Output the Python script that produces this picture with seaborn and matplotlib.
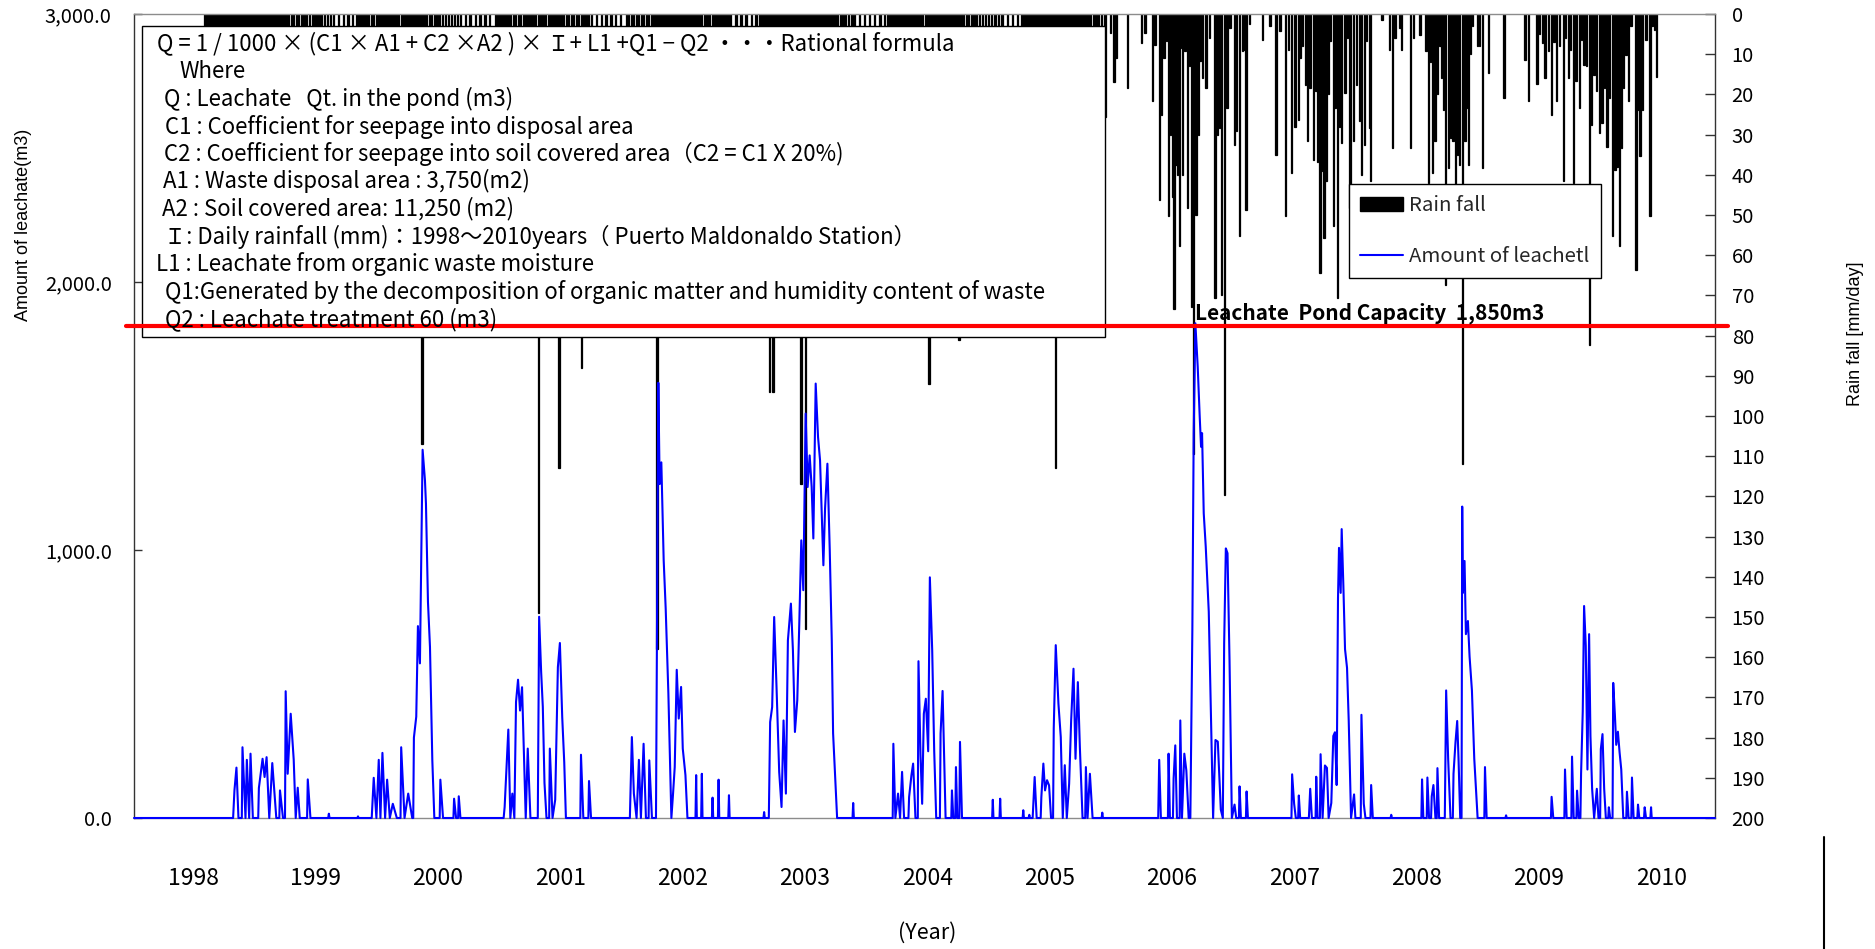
import numpy as np
import pandas as pd
import matplotlib
matplotlib.use("Agg")
import matplotlib.pyplot as plt
import seaborn as sns
from matplotlib.patches import Rectangle, Patch
from matplotlib.lines import Line2D

# ------------------------------------------------------------------
# Leachate in the pond (m3), x = day number counted from 1 Jan 1998
# one pair of lists per wet season
# ------------------------------------------------------------------
s1_day = [118, 122, 128, 134, 144, 146, 155, 159, 166, 170, 177, 193, 195, 206, 212, 218, 226, 235, 247, 256,
          258, 267, 273, 275, 281, 290, 299, 305, 311, 317, 339, 341, 349, 402, 404, 406]
s1_m3 = [0, 103, 188, 0, 0, 264, 0, 217, 0, 240, 0, 0, 112, 221, 153, 227, 0, 205, 0, 0,
         103, 0, 0, 473, 165, 389, 218, 0, 113, 0, 0, 144, 0, 0, 16, 0]

s2_day = [489, 491, 493, 532, 538, 546, 553, 558, 564, 572, 578, 586, 595, 607, 618, 620, 630, 641, 653, 656,
          658, 665, 670, 676, 684, 691, 694, 700, 706, 713, 719, 735, 737, 745, 776, 778, 784, 790, 792, 797]
s2_m3 = [0, 6, 0, 0, 150, 0, 217, 0, 243, 0, 143, 0, 53, 0, 0, 264, 0, 91, 0, 0,
         300, 378, 716, 577, 1374, 1260, 1173, 806, 638, 215, 0, 0, 143, 0, 0, 72, 0, 0, 81, 0]

s3_day = [926, 929, 940, 946, 952, 958, 963, 969, 975, 981, 986, 992, 998, 1006, 1028, 1032, 1038, 1043, 1048, 1054,
          1062, 1064, 1072, 1080, 1088, 1094, 1101, 1107, 1112, 1155, 1157, 1164, 1179, 1181, 1187]
s3_m3 = [0, 41, 330, 0, 91, 0, 433, 516, 401, 488, 265, 0, 259, 0, 0, 751, 546, 415, 131, 0,
         0, 259, 0, 68, 563, 653, 376, 208, 0, 0, 236, 0, 0, 138, 0]

s4_day = [1303, 1309, 1315, 1323, 1330, 1336, 1344, 1351, 1359, 1361, 1369, 1381, 1388, 1392, 1397, 1404, 1410,
          1418, 1427, 1432, 1437, 1443, 1449, 1456, 1461, 1469, 1475, 1499, 1501, 1503, 1516, 1518, 1520, 1548,
          1550, 1552, 1566, 1568, 1570, 1597, 1599, 1601]
s4_m3 = [0, 302, 91, 0, 217, 0, 277, 0, 0, 215, 0, 0, 1624, 1246, 1327, 962, 782,
         466, 0, 91, 190, 553, 371, 489, 259, 160, 0, 0, 160, 0, 0, 165, 0, 0,
         76, 0, 0, 143, 0, 0, 85, 0]

s5_day = [1702, 1704, 1706, 1718, 1722, 1728, 1734, 1741, 1749, 1756, 1762, 1769, 1775, 1784, 1790, 1796, 1803,
          1809, 1815, 1821, 1828, 1834, 1840, 1846, 1851, 1858, 1865, 1871, 1881, 1886, 1893, 1900, 1906, 1910,
          1922, 1968, 1970, 1972]
s5_m3 = [0, 22, 0, 0, 358, 414, 750, 490, 172, 41, 364, 91, 663, 800, 626, 321, 439,
         725, 1036, 850, 1509, 1235, 1353, 1235, 1043, 1621, 1422, 1335, 943, 1155, 1322, 999, 664, 316,
         0, 0, 56, 0]

s6_day = [2080, 2088, 2090, 2096, 2104, 2110, 2116, 2122, 2135, 2137, 2144, 2149, 2156, 2163, 2165, 2171, 2176,
          2181, 2187, 2194, 2199, 2206, 2212, 2218, 2229, 2231, 2237, 2246, 2263, 2265, 2269, 2275, 2277, 2281,
          2287, 2289, 2295, 2385, 2387, 2389, 2407, 2409, 2411]
s6_m3 = [0, 0, 277, 0, 91, 0, 172, 0, 0, 78, 160, 203, 0, 0, 585, 237, 53,
         389, 445, 249, 898, 626, 249, 0, 0, 315, 474, 0, 0, 103, 0, 0, 190, 0,
         0, 284, 0, 0, 68, 0, 0, 72, 0]

s7_day = [2476, 2478, 2480, 2494, 2496, 2498, 2506, 2512, 2518, 2530, 2532, 2538, 2543, 2549, 2555, 2561, 2567,
          2569, 2575, 2583, 2590, 2596, 2602, 2608, 2615, 2621, 2628, 2634, 2641, 2647, 2655, 2663, 2665, 2670,
          2677, 2685, 2712, 2714, 2716]
s7_m3 = [0, 29, 0, 0, 12, 0, 0, 153, 0, 0, 78, 203, 103, 141, 122, 0, 0,
         334, 645, 427, 302, 0, 197, 0, 128, 364, 557, 221, 507, 265, 0, 0, 190, 0,
         165, 0, 0, 20, 0]

s8_day = [2881, 2884, 2889, 2910, 2912, 2916, 2925, 2927, 2932, 2937, 2945, 2947, 2952, 2959, 2965, 2972, 2977,
          2983, 2987, 2992, 2999, 3005, 3009, 3012, 3017, 3023, 3032, 3045, 3052, 3059, 3068, 3074, 3078, 3083,
          3088, 3094, 3101, 3109, 3114, 3122, 3124, 3128, 3143, 3145, 3149]
s8_m3 = [0, 217, 0, 0, 240, 0, 0, 147, 271, 0, 0, 364, 0, 240, 178, 0, 0,
         701, 1436, 1846, 1684, 1497, 1385, 1436, 1137, 1012, 770, 0, 291, 285, 31, 0, 652, 1006,
         988, 590, 0, 50, 0, 0, 118, 0, 0, 99, 0]

s9_day = [3273, 3279, 3281, 3287, 3292, 3299, 3301, 3305, 3331, 3335, 3340, 3351, 3353, 3357, 3364, 3366, 3372,
          3379, 3385, 3390, 3398, 3404, 3409, 3414, 3418, 3421, 3426, 3429, 3434, 3439, 3445, 3450, 3457, 3466,
          3470, 3486, 3488, 3495, 3500, 3515, 3517, 3522, 3575, 3577, 3579]
s9_m3 = [0, 0, 163, 53, 0, 0, 84, 0, 0, 109, 0, 0, 154, 0, 0, 238, 0,
         196, 187, 0, 56, 306, 320, 123, 819, 1008, 840, 1078, 868, 630, 560, 364, 0, 88,
         0, 0, 385, 53, 0, 0, 123, 0, 0, 12, 0]

s10_day = [3662, 3667, 3669, 3673, 3683, 3685, 3690, 3696, 3698, 3703, 3709, 3713, 3715, 3720, 3737, 3741, 3747,
           3754, 3761, 3763, 3769, 3774, 3778, 3783, 3787, 3789, 3791, 3796, 3800, 3806, 3811, 3818, 3825, 3835,
           3855, 3857, 3862, 3918, 3920, 3922]
s10_m3 = [0, 0, 144, 0, 0, 151, 0, 0, 81, 123, 0, 0, 186, 0, 0, 476, 221,
          0, 0, 165, 284, 362, 221, 0, 0, 1162, 840, 959, 686, 735, 602, 476, 221, 0,
          0, 190, 0, 0, 10, 0]

s11_day = [4054, 4056, 4061, 4094, 4096, 4101, 4115, 4117, 4122, 4130, 4132, 4137, 4142, 4144, 4149, 4153, 4158,
           4163, 4168, 4172, 4177, 4183, 4191, 4196, 4201, 4203, 4208, 4213, 4218, 4225, 4227, 4231, 4238, 4240,
           4245, 4249, 4254, 4259, 4264, 4270, 4279, 4281, 4286, 4294, 4296, 4301, 4312, 4314, 4318, 4332, 4334,
           4338, 4351, 4353, 4355]
s11_m3 = [0, 79, 0, 0, 181, 0, 0, 229, 0, 0, 102, 0, 0, 165, 397, 791, 644,
          181, 686, 306, 109, 0, 109, 0, 0, 257, 313, 109, 0, 0, 40, 0, 0, 504,
          385, 273, 322, 245, 181, 0, 0, 98, 0, 0, 151, 0, 0, 50, 0, 0, 40,
          0, 0, 40, 0]

# ------------------------------------------------------------------
# Daily rainfall (mm/day)
# 1998-2005: mostly hidden behind the formula box, only the top strip shows
# ------------------------------------------------------------------
strip1_day = [34, 41, 47, 55, 62, 70, 79, 88, 95, 103, 110, 118, 125, 131, 139, 146, 152, 160, 167, 174, 181,
              189, 196, 203, 210, 217, 225, 232, 240, 248, 255, 262, 270, 277, 284, 292, 299, 307, 314, 322, 330,
              338, 346, 355, 363, 372, 381, 390, 399, 408, 417, 432, 447, 461, 474]
strip1_mm = [12, 6, 18, 9, 22, 7, 15, 10, 25, 14, 28, 9, 35, 18, 22, 41, 12, 30, 8, 26, 45,
             15, 33, 19, 24, 38, 11, 29, 17, 42, 21, 13, 36, 25, 9, 31, 47, 16, 27, 20, 34,
             12, 23, 39, 14, 28, 10, 22, 18, 8, 15, 6, 11, 5, 9]

strip2_day = [486, 494, 501, 509, 516, 523, 531, 538, 546, 553, 560, 568, 575, 583, 590, 597, 605, 612, 620, 627,
              634, 642, 649, 657, 664, 671, 676, 689, 696, 704, 711, 719, 727, 735, 744, 752, 761, 770, 779, 788,
              797, 812, 826, 841, 855, 870, 884]
strip2_mm = [10, 24, 16, 37, 13, 29, 21, 44, 9, 32, 18, 26, 40, 14, 22, 35, 11, 27, 19, 43,
             16, 30, 24, 12, 38, 20, 33, 46, 17, 25, 39, 13, 28, 21, 9, 31, 15, 23, 11, 18,
             7, 8, 5, 12, 6, 10, 7]

strip3_day = [903, 910, 918, 925, 933, 940, 947, 955, 962, 970, 977, 985, 992, 999, 1007, 1014, 1022, 1038, 1045,
              1052, 1060, 1067, 1075, 1082, 1098, 1105, 1113, 1120, 1128, 1135, 1143, 1150, 1165, 1172, 1180, 1188,
              1203, 1218, 1232, 1247, 1261, 1276]
strip3_mm = [12, 27, 19, 40, 15, 33, 22, 9, 36, 25, 14, 42, 18, 29, 11, 37, 23, 31, 16,
             44, 20, 27, 13, 35, 24, 17, 39, 10, 28, 21, 34, 12, 26, 19, 8, 14,
             7, 11, 5, 9, 6, 13]

strip4_day = [1292, 1299, 1307, 1314, 1322, 1329, 1337, 1344, 1352, 1359, 1367, 1374, 1379, 1390, 1397, 1405, 1412,
              1420, 1427, 1435, 1442, 1450, 1457, 1465, 1472, 1480, 1487, 1495, 1502, 1510, 1517, 1525, 1533, 1541,
              1549, 1557, 1566, 1575, 1584, 1593, 1602, 1620, 1635, 1650, 1666, 1680]
strip4_mm = [15, 31, 20, 43, 12, 26, 38, 17, 29, 45, 22, 34, 48, 27, 19, 36, 24,
             41, 14, 30, 21, 39, 11, 28, 33, 16, 25, 42, 13, 31, 20, 37, 9, 27,
             18, 23, 10, 29, 14, 8, 12, 6, 10, 4, 8, 11]

strip5_day = [1692, 1699, 1707, 1714, 1724, 1738, 1745, 1752, 1760, 1767, 1775, 1782, 1790, 1797, 1805, 1820, 1834,
              1841, 1849, 1856, 1864, 1871, 1879, 1886, 1894, 1901, 1909, 1916, 1924, 1932, 1940, 1948, 1956, 1964,
              1972, 1988, 2003, 2018, 2034, 2050, 2063]
strip5_mm = [13, 29, 18, 41, 24, 35, 16, 27, 44, 21, 32, 14, 38, 25, 19, 46, 28,
             17, 34, 23, 40, 12, 30, 26, 15, 37, 22, 33, 11, 27, 19, 24, 9, 16,
             12, 7, 12, 5, 9, 6, 10]

strip6_day = [2073, 2080, 2088, 2095, 2103, 2110, 2118, 2125, 2133, 2140, 2148, 2155, 2163, 2170, 2178, 2185, 2191,
              2202, 2209, 2217, 2224, 2232, 2239, 2247, 2254, 2262, 2269, 2277, 2293, 2300, 2308, 2315, 2323, 2331,
              2339, 2347, 2356, 2365, 2374, 2384, 2394, 2404, 2414, 2430, 2445, 2460]
strip6_mm = [11, 25, 17, 38, 22, 30, 14, 43, 26, 19, 35, 12, 28, 40, 21, 33, 16,
             45, 24, 31, 18, 37, 13, 27, 42, 20, 29, 15, 34, 23, 39, 11, 26, 19,
             32, 14, 22, 9, 17, 25, 8, 13, 10, 6, 9, 5]

strip7_day = [2474, 2481, 2489, 2496, 2504, 2511, 2519, 2526, 2534, 2541, 2549, 2556, 2564, 2569, 2581, 2588,
              2596, 2603, 2611, 2618, 2626, 2633, 2641, 2648, 2656, 2663, 2671, 2679, 2687, 2695, 2703, 2711]
strip7_mm = [14, 27, 19, 36, 23, 41, 16, 30, 25, 12, 38, 21, 33, 45, 18, 28,
             40, 15, 26, 35, 20, 31, 13, 24, 37, 17, 29, 22, 11, 19, 26, 16]

# heavy days that reach below the formula box
heavy_day = [682, 1031, 1091, 1158, 1384, 1721, 1731, 1814, 1827, 2196, 2286, 2574]
heavy_mm = [107, 149, 113, 88, 158, 94, 94, 117, 153, 92, 81, 113]

# 2005-2009: fully visible
rain0506_day = [2722, 2739, 2749, 2755, 2789, 2832, 2842, 2863, 2871, 2884, 2891, 2898, 2906, 2911, 2918, 2924,
                2928, 2934, 2938, 2944, 2948, 2954, 2961, 2968, 2974, 2981, 2986, 2994, 3001, 3006, 3014, 3024,
                3034, 3051, 3058, 3064, 3071, 3080, 3086, 3095, 3108, 3115, 3123, 3133, 3137, 3143, 3153]
rain0506_mm = [25.5, 4.7, 17, 11, 18.4, 7.2, 4.7, 21.7, 7.6, 46.2, 25, 11, 6.8, 50.3, 30, 45.4,
               73.5, 37.5, 40, 57.8, 8.5, 40, 9.3, 48.3, 13, 73, 109.5, 50, 30, 11.8, 16, 18.4,
               6, 70.6, 30, 28.4, 69.8, 119.7, 23.4, 3.5, 32.5, 29.2, 55.3, 9.3, 9, 48.7, 2.6]

rain0607_day = [3193, 3215, 3233, 3245, 3261, 3270, 3280, 3290, 3300, 3305, 3312, 3320, 3326, 3334, 3344, 3352,
                3356, 3364, 3369, 3376, 3382, 3389, 3394, 3404, 3409, 3416, 3422, 3429, 3439, 3446, 3454, 3464,
                3474, 3482, 3489, 3498, 3504, 3512, 3516, 3549, 3571, 3581, 3588]
rain0607_mm = [6.4, 3, 35, 4.3, 50.3, 9, 39.6, 28, 26.3, 11, 8, 17.6, 31.7, 18.4, 36.2, 19.2,
               36.7, 64.4, 39.1, 55.7, 41.6, 20, 6.8, 52.8, 23.4, 70.6, 28, 32.1, 19.7, 6, 48.3, 31.7,
               17.6, 26.7, 40, 32.5, 6.8, 28.4, 41.6, 1.4, 8.9, 33.3, 6]

rain0708_day = [3603, 3608, 3635, 3643, 3663, 3681, 3688, 3695, 3701, 3708, 3715, 3723, 3728, 3733, 3739, 3748,
                3755, 3761, 3768, 3774, 3780, 3789, 3797, 3802, 3807, 3814, 3820, 3834, 3840, 3850, 3867, 3914]
rain0708_mm = [3.5, 8.9, 33.3, 6, 5.1, 9.3, 42, 12, 39.6, 31.7, 20, 8, 15.9, 23.8, 67.4, 38.3,
               30.8, 31.7, 47.4, 35, 37.5, 112, 31.7, 23.4, 37.5, 10, 3, 8, 8, 38.3, 14.7, 20.9]

rain0809_day = [3977, 3986, 4012, 4019, 4029, 4036, 4046, 4056, 4063, 4071, 4080, 4091, 4098, 4106, 4113, 4121,
                4129, 4139, 4146, 4153, 4161, 4169, 4176, 4183, 4191, 4199, 4206, 4213, 4221, 4228, 4238, 4245,
                4251, 4258, 4265, 4271, 4278, 4285, 4293, 4308, 4312, 4320, 4328, 4338, 4350, 4356, 4363, 4370]
rain0809_mm = [11.4, 21.7, 17.3, 5, 7.2, 15.9, 9.3, 25, 7, 21.7, 8, 41.6, 6, 15.9, 9, 42,
               16.7, 23.4, 6.4, 12.6, 13, 82.3, 27.5, 15.1, 19.2, 29.6, 27.1, 18.4, 33, 20.9, 55.3, 38.7,
               38, 57.8, 33.3, 18.4, 10.1, 21.7, 3, 63.6, 24, 35.4, 24, 6.4, 50.3, 3, 4, 15.6]

years = list(range(1998, 2011))
leach_ticks = [0, 1000, 2000, 3000]
leach_ticklabels = ["0.0", "1,000.0", "2,000.0", "3,000.0"]
rain_ticks = list(range(0, 201, 10))
pond_capacity = 1835

box_lines = [
    "Q = 1 / 1000 × (C1 × A1 + C2 ×A2 ) × Ｉ+ L1 +Q1 − Q2 ・・・Rational formula",
    "Where",
    "Q : Leachate   Qt. in the pond (m3)",
    "C1 : Coefficient for seepage into disposal area",
    "C2 : Coefficient for seepage into soil covered area（C2 = C1 X 20%)",
    "A1 : Waste disposal area : 3,750(m2)",
    "A2 : Soil covered area: 11,250 (m2)",
    "Ｉ: Daily rainfall (mm)：1998〜2010years（ Puerto Maldonaldo Station）",
    "L1 : Leachate from organic waste moisture",
    "Q1:Generated by the decomposition of organic matter and humidity content of waste",
    "Q2 : Leachate treatment 60 (m3)",
]

# ------------------------------------------------------------------
leach_day = ([-178] + s1_day + s2_day + s3_day + s4_day + s5_day + s6_day + s7_day + s8_day
             + s9_day + s10_day + s11_day + [4544])
leach_m3 = ([0] + s1_m3 + s2_m3 + s3_m3 + s4_m3 + s5_m3 + s6_m3 + s7_m3 + s8_m3
            + s9_m3 + s10_m3 + s11_m3 + [0])
rain_day = (strip1_day + strip2_day + strip3_day + strip4_day + strip5_day + strip6_day + strip7_day
            + heavy_day + rain0506_day + rain0607_day + rain0708_day + rain0809_day)
rain_mm = (strip1_mm + strip2_mm + strip3_mm + strip4_mm + strip5_mm + strip6_mm + strip7_mm
           + heavy_mm + rain0506_mm + rain0607_mm + rain0708_mm + rain0809_mm)

W, H = 1875, 949


def fx(px):
    return px / W


def fy(py):
    return 1 - py / H


base = pd.Timestamp("1998-01-01")


def to_date(days):
    return base + pd.to_timedelta(np.asarray(days, dtype=float), unit="D")


sns.set_theme(style="white")
plt.rcParams["font.family"] = ["Noto Sans CJK JP", "DejaVu Sans"]
plt.rcParams["axes.unicode_minus"] = False

fig = plt.figure(figsize=(W / 100, H / 100), dpi=100)
ax = fig.add_axes([fx(134), fy(818), (1715 - 134) / W, (818 - 14) / H])
ax2 = ax.twinx()
ax.set_zorder(ax2.get_zorder() + 1)
ax.patch.set_visible(False)

# rainfall bars hanging from the top
ax2.bar(to_date(rain_day), rain_mm, width=4, color="black", edgecolor="black", linewidth=0.9)
ax2.set_ylim(200, 0)
ax2.set_yticks(rain_ticks)
ax2.set_yticklabels([str(t) for t in rain_ticks])
ax2.tick_params(axis="y", right=True, left=False, direction="in", length=7, width=1,
                pad=12, labelsize=14.5, color="#333333", labelcolor="black")
for sp in ax2.spines.values():
    sp.set_visible(False)

# leachate line
df = pd.DataFrame({"date": to_date(leach_day), "m3": leach_m3})
sns.lineplot(data=df, x="date", y="m3", ax=ax, color="#0000FF", linewidth=1.5, zorder=3)
ax.lines[-1].set_clip_on(False)

ax.set_xlim(base + pd.Timedelta(days=-178), base + pd.Timedelta(days=4544))
ax.set_ylim(0, 3000)
ax.set_xlabel("")
ax.set_ylabel("")
ax.set_xticks(pd.to_datetime([f"{y}-01-01" for y in years]))
ax.set_xticklabels([str(y) for y in years])
ax.set_yticks(leach_ticks)
ax.set_yticklabels(leach_ticklabels)
ax.tick_params(axis="x", bottom=False, length=0, pad=35, labelsize=16.5, labelcolor="black")
ax.tick_params(axis="y", left=True, right=False, direction="in", length=6, width=1,
               pad=16, labelsize=14.5, color="#333333", labelcolor="black")
for s in ["top", "bottom"]:
    ax.spines[s].set_color("#8c8c8c")
for s in ["left", "right"]:
    ax.spines[s].set_color("#333333")
for sp in ax.spines.values():
    sp.set_linewidth(1.0)

# formula box
ax.add_patch(Rectangle((fx(142), fy(337)), (1105 - 142) / W, (337 - 26) / H, transform=fig.transFigure,
                       facecolor="white", edgecolor="black", linewidth=1.0, zorder=4))
line_x = [157, 179.5, 164, 165, 164, 163, 162, 164, 156, 165, 165]
line_y = [43, 71, 99, 127, 154, 181, 209, 237, 264, 292, 319]
for s, x, y in zip(box_lines, line_x, line_y):
    ax.text(fx(x), fy(y), s, transform=fig.transFigure, fontsize=16, ha="left", va="center",
            color="black", zorder=6)

# pond capacity
ax.axhline(pond_capacity, xmin=-0.0051, xmax=1.0082, color="#FF0000", linewidth=3, zorder=5, clip_on=False)
ax.text(fx(1195), fy(313), "Leachate  Pond Capacity  1,850m3", transform=fig.transFigure,
        fontsize=15, fontweight="bold", ha="left", va="center", color="black", zorder=6)

# legend
handles = [Patch(facecolor="black", edgecolor="black", label="Rain fall"),
           Line2D([], [], color="#0000FF", linewidth=1.5, label="Amount of leachetl")]
leg = ax.legend(handles=handles, loc="upper left", bbox_to_anchor=(fx(1349), fy(184)),
                bbox_transform=fig.transFigure, fontsize=14.7, frameon=True, fancybox=False,
                framealpha=1, edgecolor="black", handlelength=2.1, handletextpad=0.3,
                labelspacing=1.45, borderpad=0.55, borderaxespad=0)
leg.get_frame().set_linewidth(1.0)
leg.set_zorder(7)

# axis titles
fig.text(fx(24), fy(225), "Amount of leachate(m3)", rotation=90, ha="center", va="center",
         fontsize=13, family="Liberation Sans", color="black")
fig.text(fx(1855), fy(334), "Rain fall [mm/day]", rotation=90, ha="center", va="center",
         fontsize=13, family="Liberation Sans", color="black")
fig.text(fx(927), fy(933), "(Year)", ha="center", va="center", fontsize=15.5, color="black")

fig.add_artist(Line2D([fx(1824), fx(1824)], [0, fy(837)], transform=fig.transFigure,
                      color="black", linewidth=1.5))

fig.savefig("out.png", dpi=100, facecolor="white")
